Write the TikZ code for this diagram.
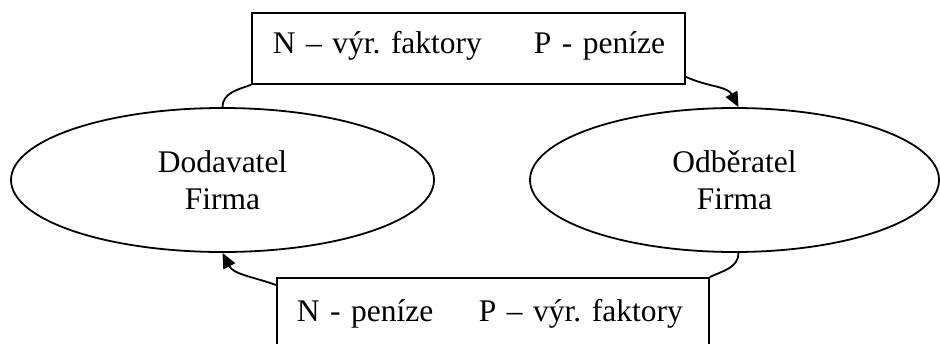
\documentclass[tikz,border=0pt]{standalone}
\usepackage{fontspec}
\setmainfont{Liberation Serif}
\usepackage{tikz}
\usetikzlibrary{shapes.geometric,arrows.meta}
\tikzstyle{firma}=[ellipse, draw, line width=0.9pt, inner sep=0pt, align=center]
\tikzstyle{tok}=[rectangle, draw, line width=0.9pt, anchor=north west, inner ysep=0pt, align=left]

\begin{document}
\frenchspacing
\begin{tikzpicture}[x=0.5pt, y=-0.5pt,
    every node/.style={font=\fontsize{15.75}{18.5}\selectfont},
    every edge/.style={draw, line width=0.9pt}
]
\clip (0,0) rectangle (940,343);
\node[firma, minimum width=211.5pt, minimum height=72pt] (dod) at (222.5,180) {Dodavatel\\Firma};
\node[firma, minimum width=204.5pt, minimum height=72pt] (odb) at (734.5,180) {Odběratel\\Firma};
\node[tok, inner xsep=10.5pt, text width=195.5pt, text height=20.5pt, text depth=15pt] (horni) at (251,12)
    {\mbox{\makebox[130.5pt][l]{N – výr. faktory}P - peníze}};
\node[tok, inner xsep=10pt, text width=196pt, text height=22pt, text depth=15pt] (dolni) at (276,277)
    {\mbox{\makebox[91pt][l]{N - peníze}P – výr. faktory}};
\path
(dod.north) edge [out=90, in=200] (horni.south west)
([yshift=4pt]horni.south east) edge [-{Triangle[length=7.5pt, width=6.5pt]}, out=-25, in=118] ([xshift=2pt]odb.north)
([xshift=2pt]odb.south) edge [out=-90, in=25] (dolni.north east)
([yshift=-4pt]dolni.north west) edge [-{Triangle[length=7.5pt, width=6.5pt]}, out=160, in=-63] (dod.south)
;
\end{tikzpicture}
\end{document}
